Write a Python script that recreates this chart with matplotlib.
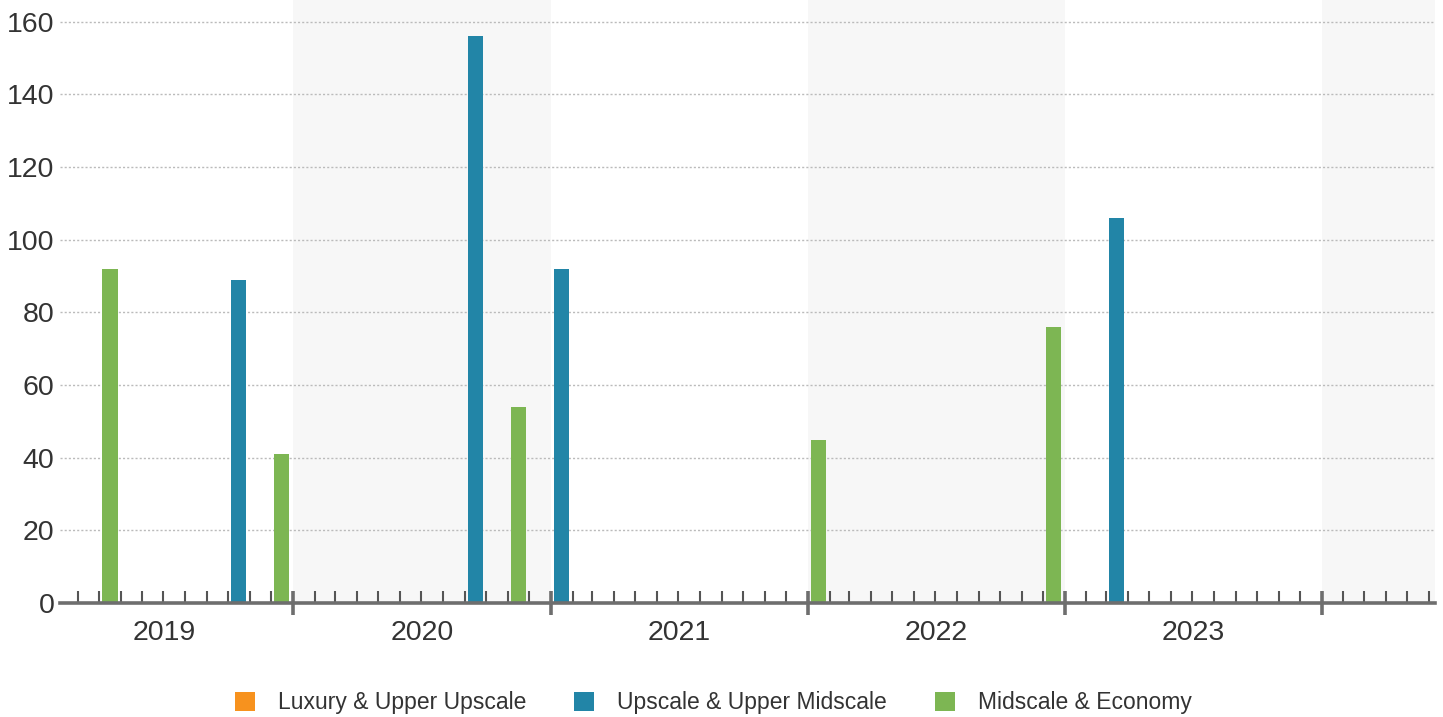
import datetime as dt

import matplotlib
matplotlib.use("Agg")
import matplotlib.pyplot as plt
import matplotlib.dates as mdates
from matplotlib.patches import Patch

plt.rcParams["font.family"] = ["Liberation Sans", "DejaVu Sans"]

# data: one bar per month (dated mid-month)
series_names = ["Luxury & Upper Upscale", "Upscale & Upper Midscale", "Midscale & Economy"]
series_colors = ["#F7921E", "#2285A7", "#7DB653"]

luxury_dates = []
luxury_values = []

upscale_dates = ["2019-10", "2020-09", "2021-01", "2023-03"]
upscale_values = [89, 156, 92, 106]

midscale_dates = ["2019-04", "2019-12", "2020-11", "2022-01", "2022-12"]
midscale_values = [92, 41, 54, 45, 76]

years = [2019, 2020, 2021, 2022, 2023]
y_ticks = [0, 20, 40, 60, 80, 100, 120, 140, 160]


def mid_month(s):
    y, m = map(int, s.split("-"))
    return dt.datetime(y, m, 16)


TEXT = "#333333"
AXIS = "#6E6E6E"

fig = plt.figure(figsize=(14.43, 7.17), dpi=100)
ax = fig.add_axes([60 / 1443, 114 / 717, 1375 / 1443, 603 / 717])

# alternating year bands
for y in [2020, 2022, 2024]:
    ax.axvspan(dt.datetime(y, 1, 1), dt.datetime(y + 1, 1, 1), color="#F7F7F7", zorder=0, lw=0)

bar_w = 21.5  # days
for dates, vals, col in [
    (luxury_dates, luxury_values, series_colors[0]),
    (upscale_dates, upscale_values, series_colors[1]),
    (midscale_dates, midscale_values, series_colors[2]),
]:
    if dates:
        ax.bar([mid_month(d) for d in dates], vals, width=bar_w, color=col, zorder=3)

ax.set_xlim(dt.datetime(2019, 2, 4), dt.datetime(2024, 6, 10))
ax.set_ylim(0, 166.0)

# y axis
ax.set_yticks(y_ticks)
ax.tick_params(axis="y", length=0, pad=4, labelsize=20.5, labelcolor=TEXT)
for v in y_ticks[1:]:
    ax.axhline(v, color="#BBBBBB", lw=1.0, ls=(0, (1.5, 1.5)), zorder=1)

# x axis: year boundaries + monthly minor ticks
ax.xaxis.set_major_locator(mdates.YearLocator())
ax.xaxis.set_minor_locator(mdates.MonthLocator())
ax.xaxis.set_major_formatter(plt.NullFormatter())
ax.tick_params(axis="x", which="major", direction="inout", length=17, width=2.6, color=AXIS)
ax.tick_params(axis="x", which="minor", direction="in", length=9, width=1.5, color="#555555")
for tl in ax.xaxis.get_majorticklines() + ax.xaxis.get_minorticklines():
    tl.set_zorder(5)

for y in years:
    ax.text(dt.datetime(y, 7, 2), -30 / 603, str(y), transform=ax.get_xaxis_transform(),
            ha="center", va="center", fontsize=20.5, color=TEXT)

for s in ["top", "right", "left"]:
    ax.spines[s].set_visible(False)
ax.spines["bottom"].set_color(AXIS)
ax.spines["bottom"].set_linewidth(2.6)
ax.spines["bottom"].set_zorder(5)

handles = [Patch(facecolor=c, edgecolor="none") for c in series_colors]
fig.legend(handles, series_names, loc="center", bbox_to_anchor=(713.5 / 1443, 14 / 717),
           ncol=3, frameon=False, fontsize=16.5, labelcolor=TEXT,
           handlelength=0.87, handleheight=0.87, handletextpad=1.0, columnspacing=2.1)

fig.savefig("out.png", dpi=100, facecolor="white")
